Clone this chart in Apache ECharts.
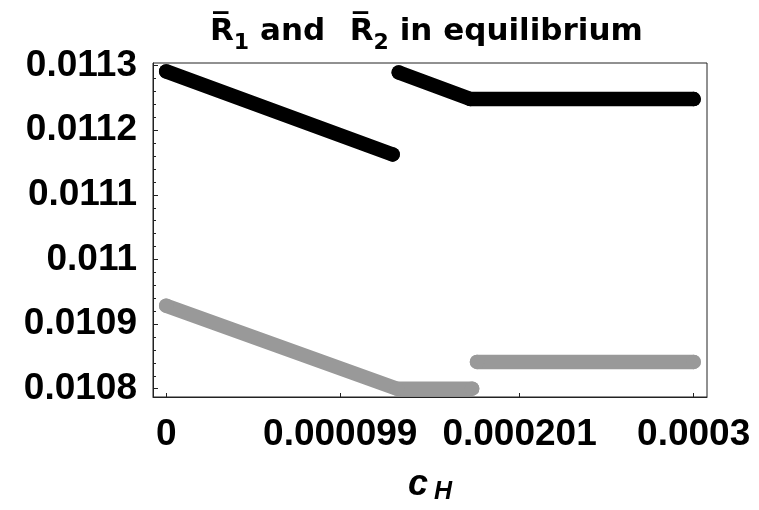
<!DOCTYPE html>
<html>
<head>
<meta charset="utf-8">
<script src="https://cdn.jsdelivr.net/npm/echarts@6/dist/echarts.min.js"></script>
<style>html,body{margin:0;padding:0;background:#fff}#c{width:759px;height:510px}</style>
</head>
<body>
<div id="c"></div>
<script>
// ---- data ----
// R1 (black), two segments
const r1SegA = [[0, 0.011291], [0.0001288, 0.0111625]];
const r1SegB = [[0.0001323, 0.0112894], [0.000173, 0.0112482], [0.0003, 0.0112482]];
// R2 (gray), two segments
const r2SegA = [[0, 0.0109284], [0.0001313, 0.0108], [0.000174, 0.0108]];
const r2SegB = [[0.0001768, 0.0108414], [0.0003, 0.0108414]];

// tick values and labels
const xTickValues = [0, 0.000099, 0.000201, 0.0003];
const xTickLabels = ['0', '0.000099', '0.000201', '0.0003'];
const yTickValues = [0.0108, 0.0109, 0.011, 0.0111, 0.0112, 0.0113];
const yTickLabels = ['0.0108', '0.0109', '0.011', '0.0111', '0.0112', '0.0113'];
const yMinorTickValues = [0.01080, 0.01082, 0.01084, 0.01086, 0.01088, 0.01090, 0.01092, 0.01094, 0.01096, 0.01098,
  0.01100, 0.01102, 0.01104, 0.01106, 0.01108, 0.01110, 0.01112, 0.01114, 0.01116, 0.01118,
  0.01120, 0.01122, 0.01124, 0.01126, 0.01128, 0.01130];

const FONT = '"Liberation Sans", Arial, Helvetica, sans-serif';
const TFONT = '"DejaVu Sans", "Liberation Sans", sans-serif';
const lblFor = (vals, labels) => v => {
  let best = 0;
  for (let i = 1; i < vals.length; i++) if (Math.abs(vals[i] - v) < Math.abs(vals[best] - v)) best = i;
  return labels[best];
};

const chart = echarts.init(document.getElementById('c'), null, {renderer: 'canvas'});
const LW = 14.5;
const lineSeries = (data, color) => ({
  type: 'line', data: data, showSymbol: true, showAllSymbol: true, symbol: 'circle', symbolSize: LW,
  itemStyle: {color: color, borderWidth: 0},
  animation: false,
  lineStyle: {color: color, width: LW, cap: 'round', join: 'round'},
  xAxisIndex: 0, yAxisIndex: 0, silent: true
});
const mainTok = {fontFamily: TFONT, fontWeight: 'bold', fontSize: 31, color: '#000', lineHeight: 36, verticalAlign: 'bottom', padding: [0, 0, 6.5, 0]};
chart.setOption({
  animation: false,
  backgroundColor: '#fff',
  title: {
    text: '{r|R\u0305}{s|1}{n| and  }{r2|R\u0305}{s|2}{n| in equilibrium}',
    left: 205, top: 13,
    textStyle: {
      rich: {
        r: mainTok,
        n: mainTok,
        r2: Object.assign({}, mainTok, {padding: [0, 0, 6.5, 3]}),
        s: {fontFamily: TFONT, fontWeight: 'bold', fontSize: 22, color: '#000', lineHeight: 24, verticalAlign: 'bottom'}
      }
    }
  },
  grid: {left: 153, right: 52, top: 63, bottom: 105, show: true, borderColor: '#222', borderWidth: 1, backgroundColor: 'transparent'},
  xAxis: {
    type: 'value', min: -0.0000075, max: 0.0003076,
    name: '{c|c}{h|H}', nameLocation: 'middle', nameGap: 68,
    nameTextStyle: {
      rich: {
        c: {fontFamily: FONT, fontWeight: 'bold', fontStyle: 'italic', fontSize: 36, color: '#000', lineHeight: 40},
        h: {fontFamily: FONT, fontWeight: 'bold', fontStyle: 'italic', fontSize: 25, color: '#000', lineHeight: 22, verticalAlign: 'bottom', padding: [0, 0, 0, 6]}
      }
    },
    axisLine: {show: true, onZero: false, lineStyle: {color: '#222', width: 1}},
    axisTick: {show: true, inside: true, length: 4, customValues: xTickValues, lineStyle: {color: '#222'}},
    axisLabel: {customValues: xTickValues, formatter: lblFor(xTickValues, xTickLabels),
      fontFamily: FONT, fontWeight: 'bold', fontSize: 37, color: '#000', margin: 19},
    splitLine: {show: false}
  },
  yAxis: [{
    type: 'value', min: 0.0107872, max: 0.011304,
    axisLine: {show: true, onZero: false, lineStyle: {color: '#222', width: 1}},
    axisTick: {show: true, inside: true, length: 5, customValues: yTickValues, lineStyle: {color: '#222'}},
    axisLabel: {customValues: yTickValues, formatter: lblFor(yTickValues, yTickLabels),
      fontFamily: FONT, fontWeight: 'bold', fontSize: 37, color: '#000', margin: 16},
    splitLine: {show: false}
  }, {
    type: 'value', min: 0.0107872, max: 0.011304, position: 'left', offset: 0,
    axisLine: {show: false, onZero: false},
    axisTick: {show: true, inside: true, length: 3, customValues: yMinorTickValues, lineStyle: {color: '#222'}},
    axisLabel: {show: false},
    splitLine: {show: false}
  }],
  series: [
    lineSeries(r1SegA, '#000000'),
    lineSeries(r1SegB, '#000000'),
    lineSeries(r2SegA, '#999999'),
    lineSeries(r2SegB, '#999999')
  ]
});
</script>
</body>
</html>
